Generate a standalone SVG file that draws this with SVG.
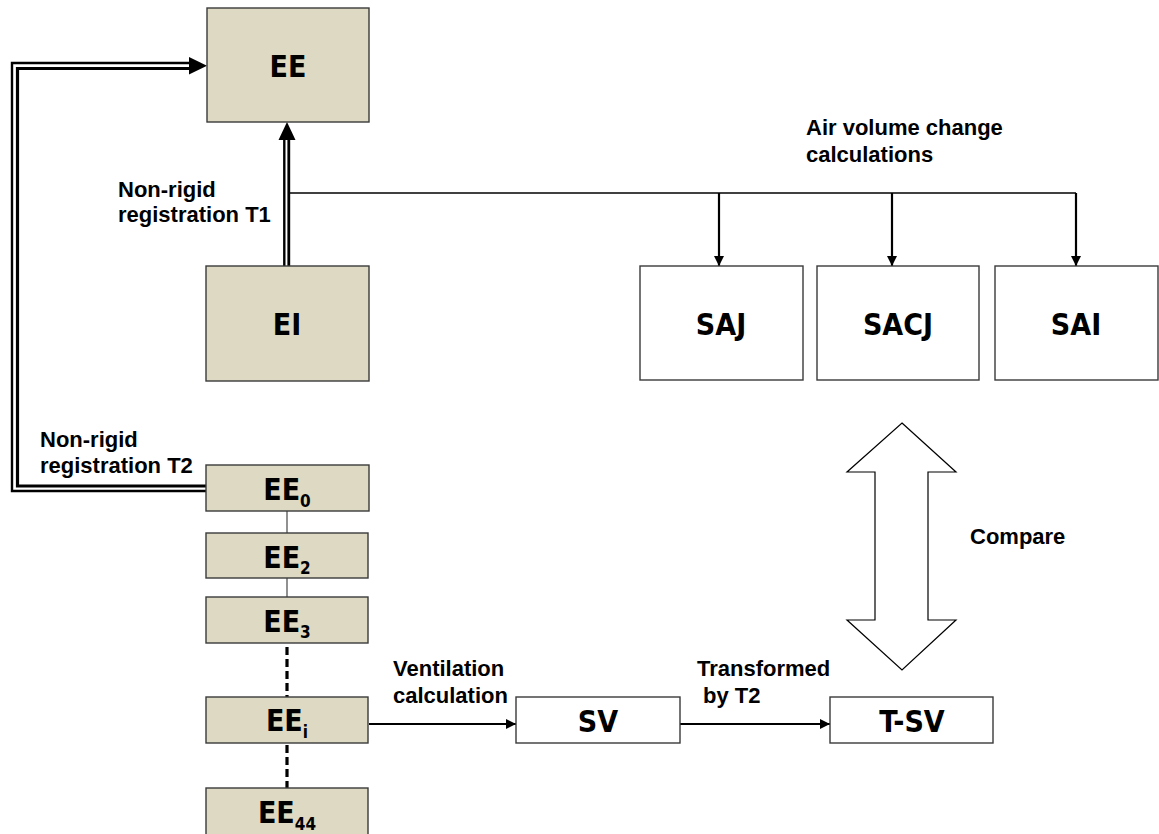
<svg xmlns="http://www.w3.org/2000/svg" width="1159" height="834" viewBox="0 0 1159 834">
<style>
.box{fill:#DDD9C3;stroke:#3a3a3a;stroke-width:1.4}
.wbox{fill:#ffffff;stroke:#3a3a3a;stroke-width:1.4}
.bt{font-family:"DejaVu Sans Condensed","DejaVu Sans",sans-serif;font-stretch:condensed;font-weight:bold;font-size:30px;fill:#000;text-anchor:middle}
.sub{font-size:17px}
.lbl{font-family:"Liberation Sans",Arial,sans-serif;font-weight:bold;font-size:22px;fill:#000}
.thin{fill:none;stroke:#000;stroke-width:1.3}
.arr{fill:none;stroke:#000;stroke-width:2.2}
.dash{fill:none;stroke:#000;stroke-width:3.2;stroke-dasharray:8,4}
.link{fill:none;stroke:#555;stroke-width:1.3}
</style>
<defs>
<marker id="ah" markerWidth="10" markerHeight="10" refX="10" refY="5" orient="auto" markerUnits="userSpaceOnUse">
<path d="M0,0 L10,5 L0,10 Z" fill="#000"/>
</marker>
</defs>
<rect width="1159" height="834" fill="#ffffff"/>

<g id="connectors">
<line x1="284.3" y1="267" x2="284.3" y2="139" stroke="#000" stroke-width="2.4"/>
<line x1="288.8" y1="267" x2="288.8" y2="139" stroke="#000" stroke-width="2.8"/>
<path d="M287,122 L295.5,140 L278.5,140 Z" fill="#000"/>
<path d="M206,491 L12,491 L12,63 L191,63" fill="none" stroke="#000" stroke-width="2.4"/>
<path d="M206,486 L17.5,486 L17.5,68.5 L191,68.5" fill="none" stroke="#000" stroke-width="3.2"/>
<path d="M207,65.7 L189,57 L189,74.4 Z" fill="#000"/>
<path class="thin" d="M290,193 L1076,193"/>
<line class="arr" x1="719" y1="193" x2="719" y2="266" marker-end="url(#ah)"/>
<line class="arr" x1="892" y1="193" x2="892" y2="266" marker-end="url(#ah)"/>
<line class="arr" x1="1076" y1="193" x2="1076" y2="266" marker-end="url(#ah)"/>
<line class="link" x1="287" y1="511" x2="287" y2="533"/>
<line class="link" x1="287" y1="578" x2="287" y2="597"/>
<line class="dash" x1="287" y1="647" x2="287" y2="697"/>
<line class="dash" x1="287" y1="745" x2="287" y2="788"/>
<line class="arr" x1="369" y1="724" x2="516" y2="724" marker-end="url(#ah)"/>
<line class="arr" x1="680" y1="724" x2="830" y2="724" marker-end="url(#ah)"/>
<path d="M902,423 L956,472 L928,472 L928,620 L956,620 L902,670 L847,620 L875,620 L875,472 L847,472 Z" fill="#ffffff" stroke="#000" stroke-width="1.2"/>
</g>

<g id="labels">
<text class="lbl" x="118" y="197">Non-rigid</text>
<text class="lbl" x="118" y="222">registration T1</text>
<text class="lbl" x="40" y="447">Non-rigid</text>
<text class="lbl" x="40" y="473">registration T2</text>
<text class="lbl" x="806" y="135">Air volume change</text>
<text class="lbl" x="806" y="162">calculations</text>
<text class="lbl" x="970" y="544">Compare</text>
<text class="lbl" x="393" y="676">Ventilation</text>
<text class="lbl" x="393" y="703">calculation</text>
<text class="lbl" x="697" y="676">Transformed</text>
<text class="lbl" x="703" y="703">by T2</text>
</g>

<g id="node-EE"><rect class="box" x="207" y="8" width="162" height="114"/><text class="bt" x="288" y="77">EE</text></g>
<g id="node-EI"><rect class="box" x="206" y="266" width="163" height="115"/><text class="bt" x="287" y="335">EI</text></g>
<g id="node-SAJ"><rect class="wbox" x="640" y="266" width="163" height="114"/><text class="bt" x="721" y="335">SAJ</text></g>
<g id="node-SACJ"><rect class="wbox" x="817" y="266" width="162" height="114"/><text class="bt" x="898" y="335">SACJ</text></g>
<g id="node-SAI"><rect class="wbox" x="995" y="266" width="163" height="114"/><text class="bt" x="1076" y="335">SAI</text></g>
<g id="node-EE0"><rect class="box" x="206" y="465" width="163" height="46"/><text class="bt" x="287" y="500">EE<tspan class="sub" dy="7">0</tspan></text></g>
<g id="node-EE2"><rect class="box" x="206" y="533" width="162" height="45"/><text class="bt" x="287" y="568">EE<tspan class="sub" dy="6">2</tspan></text></g>
<g id="node-EE3"><rect class="box" x="206" y="597" width="162" height="46"/><text class="bt" x="287" y="632">EE<tspan class="sub" dy="6">3</tspan></text></g>
<g id="node-EEi"><rect class="box" x="206" y="697" width="162" height="46"/><text class="bt" x="287" y="731">EE<tspan class="sub" dy="7">i</tspan></text></g>
<g id="node-EE44"><rect class="box" x="206" y="788" width="162" height="52"/><text class="bt" x="287" y="823">EE<tspan class="sub" dy="7">44</tspan></text></g>
<g id="node-SV"><rect class="wbox" x="516" y="697" width="164" height="46"/><text class="bt" x="598" y="732">SV</text></g>
<g id="node-TSV"><rect class="wbox" x="830" y="697" width="163" height="46"/><text class="bt" x="912" y="732">T-SV</text></g>
</svg>
